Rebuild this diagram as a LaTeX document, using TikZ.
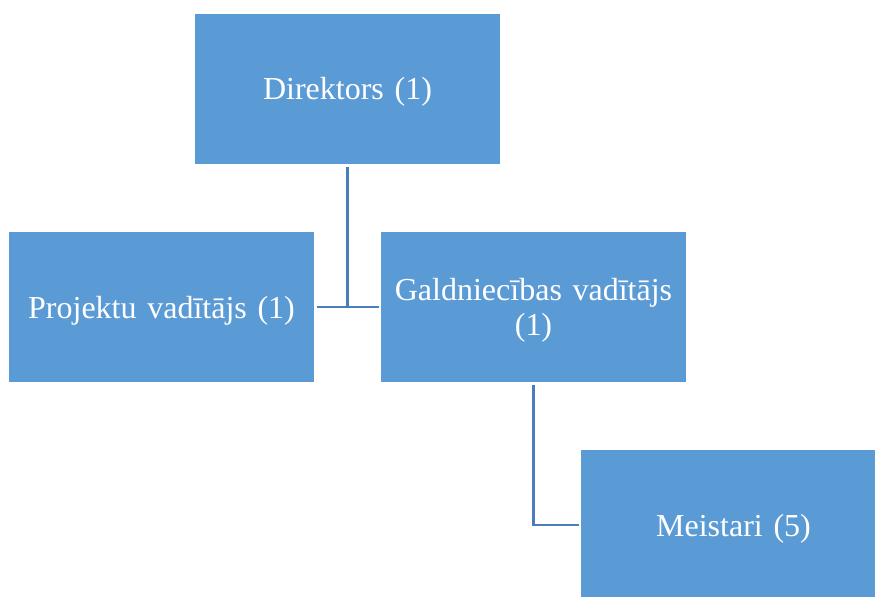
\documentclass[tikz,border=0pt]{standalone}
\usepackage{fontspec}
\setmainfont{Liberation Serif}
\usepackage{xcolor}
\definecolor{boxblue}{HTML}{5B9BD5}
\definecolor{lineblue}{HTML}{4A7EBB}
\tikzset{
  orgbox/.style={rectangle,fill=boxblue,text=white,minimum width=152.5pt,minimum height=75pt,
    inner sep=0pt,align=center,text width=146pt,font=\fontsize{16}{17.5}\selectfont,
    execute at begin node={\rule{0pt}{14.5pt}}},
  conn/.style={draw=lineblue,line width=1.2pt}
}
\begin{document}
\begin{tikzpicture}[x=0.5pt,y=-0.5pt]
\useasboundingbox (0,0) rectangle (875,596);
\node [orgbox] (dir) at (347.5,88.5) {Direktors (1)};
\node [orgbox] (proj) at (161.5,307) {Projektu vadītājs (1)};
\node [orgbox] (gald) at (533.5,307) {Galdniecības vadītājs\\(1)};
\node [orgbox] (meist) at (733.5,525) {Meistari (5)};
\draw [conn] ([yshift=-1.5pt]dir.south) -- (dir.south |- proj.east);
\draw [conn] ([xshift=1.5pt]proj.east) -- ([xshift=-1pt]gald.west);
\draw [conn] ([yshift=-1.5pt]gald.south) |- ([xshift=-1pt]meist.west);
\end{tikzpicture}
\end{document}
